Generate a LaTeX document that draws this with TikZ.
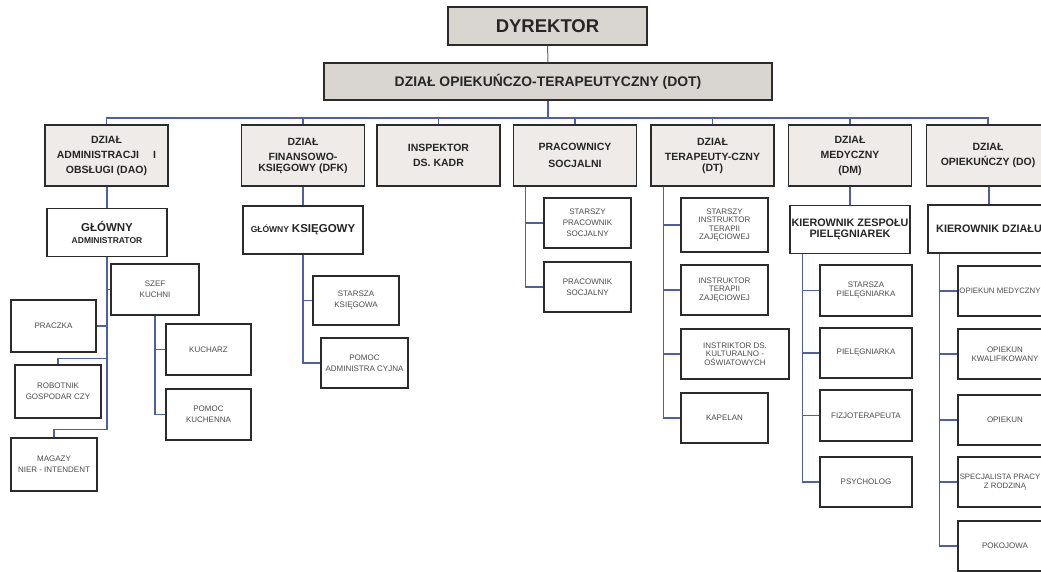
\documentclass[tikz,border=0pt]{standalone}
\usepackage{fontspec}
\setmainfont{Liberation Sans}
\usepackage{tikz}
\usetikzlibrary{calc}
\definecolor{boxline}{HTML}{2B2B2B}
\definecolor{topfill}{HTML}{D9D5D1}
\definecolor{deptfill}{HTML}{EEEBE8}
\definecolor{lineblue}{HTML}{4F5FA6}
\tikzset{topbox/.style={draw=boxline,line width=1.5pt,fill=topfill,align=center,text=black!85,inner sep=1pt},
deptbox/.style={draw=boxline,line width=1.4pt,fill=deptfill,align=center,text=black!85,inner sep=1pt,minimum width=123pt,minimum height=61pt,font=\fontsize{10.5}{15}\selectfont\bfseries},
headbox/.style={draw=boxline,line width=1.4pt,fill=white,align=center,text=black!85,inner sep=1pt,minimum width=120pt,minimum height=48pt,font=\fontsize{10.8}{11.5}\selectfont\bfseries},
postbox/.style={draw=boxline,line width=1.2pt,fill=white,align=center,text=black!70,inner sep=1pt,font=\fontsize{8}{11}\selectfont},
conn/.style={draw=lineblue,line width=1.1pt}}

\begin{document}
\begin{tikzpicture}[x=1pt,y=-1pt]
			\useasboundingbox (0,0) rectangle (1041,572);
			\node[topbox,minimum width=199pt,minimum height=38pt,font=\fontsize{18.5}{20}\selectfont\bfseries] (dyr) at (547.5,26) {DYREKTOR};
			\node[topbox,minimum width=448pt,minimum height=37pt,font=\fontsize{13.9}{16}\selectfont\bfseries] (dot) at (548,81.5) {DZIAŁ OPIEKUŃCZO-TERAPEUTYCZNY (DOT)};

			\node[deptbox] (dao) at (106.5,155.5) {DZIAŁ\\ADMINISTRACJI\hspace{14pt}I\\OBSŁUGI (DAO)};
			\node[deptbox] (dfk) at (303,155.5) {DZIAŁ\\FINANSOWO-\\[-4pt]KSIĘGOWY (DFK)};
			\node[deptbox] (insp) at (438.5,155.5) {INSPEKTOR\\DS. KADR};
			\node[deptbox] (ps) at (575,155.5) {PRACOWNICY\\[2pt]SOCJALNI};
			\node[deptbox] (dt) at (712.5,155.5) {DZIAŁ\\TERAPEUTY-CZNY\\[-4pt](DT)};
			\node[deptbox] (dm) at (850,155.5) {DZIAŁ\\MEDYCZNY\\(DM)};
			\node[deptbox] (do) at (988,155.5) {DZIAŁ\\OPIEKUŃCZY (DO)};

			\node[headbox] (ga) at (107,232.5) {{\fontsize{11.5}{13}\selectfont GŁÓWNY}\\[1pt]{\fontsize{8.5}{10}\selectfont ADMINISTRATOR}};
			\node[headbox] (gk) at (303,230) {{\fontsize{8.5}{10}\selectfont GŁÓWNY} {\fontsize{11.5}{13}\selectfont KSIĘGOWY}};
			\node[headbox] (kzp) at (850,229.5) {KIEROWNIK ZESPOŁU\\PIELĘGNIAREK};
			\node[headbox,minimum width=122pt] (kd) at (989,229) {KIEROWNIK DZIAŁU};

			% administracja
			\node[postbox,minimum width=88pt,minimum height=51pt] (sk) at (155,289.5) {SZEF\\KUCHNI};
			\node[postbox,minimum width=85pt,minimum height=52pt] (pr) at (53.5,326) {PRACZKA};
			\node[postbox,minimum width=86pt,minimum height=53pt] (rob) at (58,391.5) {ROBOTNIK\\GOSPODAR CZY};
			\node[postbox,minimum width=86pt,minimum height=53pt] (mag) at (54,464.5) {MAGAZY\\NIER - INTENDENT};
			\node[postbox,minimum width=85pt,minimum height=51pt] (ku) at (208.5,349.5) {KUCHARZ};
			\node[postbox,minimum width=85pt,minimum height=51pt] (pk) at (208.5,414.5) {POMOC\\KUCHENNA};

			% finanse
			\node[postbox,minimum width=86pt,minimum height=49pt] (sks) at (356,300.5) {STARSZA\\KSIĘGOWA};
			\node[postbox,minimum width=87pt,minimum height=50pt] (pa) at (364.5,363) {POMOC\\ADMINISTRA CYJNA};

			% pracownicy socjalni
			\node[postbox,minimum width=87pt,minimum height=50pt] (sps) at (587.5,223) {STARSZY\\PRACOWNIK\\SOCJALNY};
			\node[postbox,minimum width=87pt,minimum height=50pt] (pso) at (587.5,287) {PRACOWNIK\\SOCJALNY};

			% terapia
			\node[postbox,minimum width=87pt,minimum height=54pt,font=\fontsize{8}{8.5}\selectfont] (sit) at (724.5,225) {STARSZY\\INSTRUKTOR\\TERAPII\\ZAJĘCIOWEJ};
			\node[postbox,minimum width=87pt,minimum height=50pt,font=\fontsize{8}{8.5}\selectfont] (itz) at (724.5,290) {INSTRUKTOR\\TERAPII\\ZAJĘCIOWEJ};
			\node[postbox,minimum width=108pt,minimum height=50pt,font=\fontsize{8}{8.5}\selectfont] (iko) at (735,354) {INSTRIKTOR DS.\\KULTURALNO -\\OŚWIATOWYCH};
			\node[postbox,minimum width=87pt,minimum height=50pt] (kap) at (724.5,418) {KAPELAN};

			% medyczny
			\node[postbox,minimum width=92pt,minimum height=51pt,font=\fontsize{8}{9}\selectfont] (spi) at (866,290.5) {STARSZA\\PIELĘGNIARKA};
			\node[postbox,minimum width=92pt,minimum height=50pt] (pie) at (866,353) {PIELĘGNIARKA};
			\node[postbox,minimum width=92pt,minimum height=51pt] (fiz) at (866,415.5) {FIZJOTERAPEUTA};
			\node[postbox,minimum width=92pt,minimum height=50pt] (psy) at (866,482) {PSYCHOLOG};

			% opiekunczy
			\node[postbox,minimum width=94pt,minimum height=50pt,font=\fontsize{7.8}{9}\selectfont] (om) at (1005,291) {\hspace*{-10pt}OPIEKUN MEDYCZNY};
			\node[postbox,minimum width=94pt,minimum height=50pt,font=\fontsize{8}{9}\selectfont] (ok) at (1005,354) {OPIEKUN\\KWALIFIKOWANY};
			\node[postbox,minimum width=94pt,minimum height=50pt] (op) at (1005,420) {OPIEKUN};
			\node[postbox,minimum width=94pt,minimum height=50pt,font=\fontsize{7.8}{9}\selectfont] (spr) at (1005,482) {\hspace*{-10pt}SPECJALISTA PRACY\\Z RODZINĄ};
			\node[postbox,minimum width=94pt,minimum height=50pt] (pok) at (1005,546) {POKOJOWA};

			% polaczenia
			\draw[draw=black!60,line width=1pt] (dyr) -- (dot);
			\coordinate (bus) at (0,118);
			\draw[conn] (dot.south) -- (dot.south |- bus);
			\draw[conn] (dao.north) |- (do.north |- bus) -- (do.north);
			\foreach \n in {dfk,insp,ps,dt,dm} \draw[conn] (\n.north) -- (\n.north |- bus);
			\foreach \a/\b in {dao/ga,dfk/gk,dm/kzp,do/kd} \draw[conn] (\b.north |- \a.south) -- (\b.north);

			\draw[conn] (ga.south) |- ([yshift=8pt]mag.north) -- (mag.north);
			\draw[conn] ([yshift=6pt]rob.north -| ga.south) -| (rob.north);
			\draw[conn] (pr.east) -- (pr.east -| ga.south);
			\draw[conn] (sk.west -| ga.south) -- (sk.west);
			\draw[conn] (sk.south) |- (pk.west);
			\draw[conn] (ku.west -| sk.south) -- (ku.west);

			\draw[conn] (gk.south) |- (pa.west);
			\draw[conn] (sks.west -| gk.south) -- (sks.west);

			\draw[conn] ([xshift=13pt]ps.south west) coordinate (ps-t) |- (pso.west);
			\draw[conn] (sps.west -| ps-t) -- (sps.west);
			\draw[conn] ([xshift=13pt]dt.south west) coordinate (dt-t) |- (kap.west);
			\foreach \c in {sit,itz,iko} \draw[conn] (\c.west -| dt-t) -- (\c.west);
			\draw[conn] ([xshift=13pt]kzp.south west) coordinate (kzp-t) |- (psy.west);
			\foreach \c in {spi,pie,fiz} \draw[conn] (\c.west -| kzp-t) -- (\c.west);
			\draw[conn] ([xshift=12pt]kd.south west) coordinate (kd-t) |- (pok.west);
			\foreach \c in {om,ok,op,spr} \draw[conn] (\c.west -| kd-t) -- (\c.west);
		\end{tikzpicture}
\end{document}
